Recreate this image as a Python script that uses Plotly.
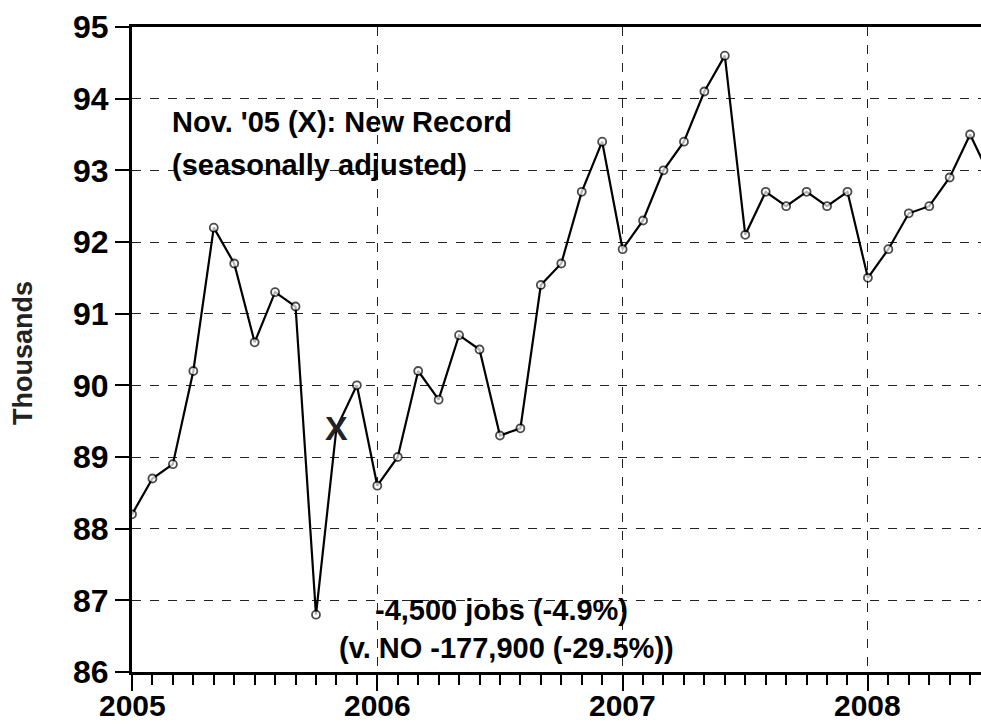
import plotly.graph_objects as go

# Monthly values, Jan 2005 .. Jul 2008 (thousands, seasonally adjusted)
values_2005 = [88.2, 88.7, 88.9, 90.2, 92.2, 91.7, 90.6, 91.3, 91.1, 86.8, 89.4, 90.0]
values_2006 = [88.6, 89.0, 90.2, 89.8, 90.7, 90.5, 89.3, 89.4, 91.4, 91.7, 92.7, 93.4]
values_2007 = [91.9, 92.3, 93.0, 93.4, 94.1, 94.6, 92.1, 92.7, 92.5, 92.7, 92.5, 92.7]
values_2008 = [91.5, 91.9, 92.4, 92.5, 92.9, 93.5, 92.9]

year_ticks = [2005, 2006, 2007, 2008]
year_labels = ["2005", "2006", "2007", "2008"]
y_ticks = [86, 87, 88, 89, 90, 91, 92, 93, 94, 95]

record_month_index = 10  # Nov. '05

values = values_2005 + values_2006 + values_2007 + values_2008
x = [2005 + i / 12 for i in range(len(values))]

sizes = [8] * len(values)
sizes[record_month_index] = 0

FONT = "Liberation Sans, Arial, sans-serif"
L, R, T, B = 132, 0, 27, 54
PW = 981 - L - R
PH = 726 - T - B

fig = go.Figure()
fig.add_trace(go.Scatter(
    x=x, y=values, mode="lines+markers",
    line=dict(color="black", width=2.2),
    marker=dict(symbol="circle", size=sizes, color="white",
                line=dict(color="black", width=1.8)),
    cliponaxis=True, showlegend=False,
))

ann_font = dict(family=FONT, size=29, color="black")
fig.add_annotation(x=x[record_month_index], y=values[record_month_index],
                   text="<b>X</b>", showarrow=False,
                   font=dict(family=FONT, size=34, color="#222"))
fig.add_annotation(x=2005.155, y=93.67, xanchor="left", yanchor="middle",
                   text="<b>Nov. '05 (X): New Record</b>", showarrow=False, font=ann_font)
fig.add_annotation(x=2005.155, y=93.07, xanchor="left", yanchor="middle",
                   text="<b>(seasonally adjusted)</b>", showarrow=False, font=ann_font)
fig.add_annotation(x=2006.508, y=86.87, xanchor="center", yanchor="middle",
                   text="<b>-4,500 jobs (-4.9%)</b>", showarrow=False, font=ann_font)
fig.add_annotation(x=2006.525, y=86.34, xanchor="center", yanchor="middle",
                   text="<b>(v. NO -177,900 (-29.5%))</b>", showarrow=False, font=ann_font)
fig.add_annotation(xref="paper", yref="paper", x=(23 - L) / PW, y=(726 - B - 353) / PH,
                   xanchor="center", yanchor="middle", textangle=-90,
                   text="<b>Thousands</b>", showarrow=False,
                   font=dict(family=FONT, size=27, color="#222"))
# year labels below the axis
for yv, lab in zip(year_ticks, year_labels):
    fig.add_annotation(x=yv, xref="x", yref="paper", y=-(705 - (726 - B)) / PH,
                       xanchor="center", yanchor="middle", text=f"<b>{lab}</b>",
                       showarrow=False, font=dict(family=FONT, size=30, color="black"))

fig.update_xaxes(
    range=[2005, 2008.461], automargin=False,
    tickmode="array", tickvals=year_ticks, showticklabels=False,
    ticks="outside", ticklen=16, tickwidth=2, tickcolor="black",
    minor=dict(dtick=1 / 12, tick0=2005, ticks="outside", ticklen=10,
               tickwidth=1.5, tickcolor="black", showgrid=False),
    showgrid=True, gridcolor="#222", gridwidth=1, griddash="dash",
    showline=True, linecolor="black", linewidth=3, mirror=True,
    zeroline=False,
)
fig.update_yaxes(
    range=[86, 95], automargin=False,
    tickmode="array", tickvals=y_ticks, ticktext=[f"<b>{t}</b>" for t in y_ticks],
    ticks="outside", ticklen=14, tickwidth=2, tickcolor="black",
    showgrid=True, gridcolor="#222", gridwidth=1, griddash="dash",
    showline=True, linecolor="black", linewidth=3,
    zeroline=False,
    tickfont=dict(family=FONT, size=32, color="black"),
)

fig.update_layout(
    width=981, height=726,
    margin=dict(l=L, r=R, t=T, b=B, autoexpand=False),
    plot_bgcolor="white", paper_bgcolor="white",
)

fig.write_html(
    "out.html",
    config={"displayModeBar": False},
    post_script="document.body.style.margin='0';document.body.style.overflow='hidden';",
)
